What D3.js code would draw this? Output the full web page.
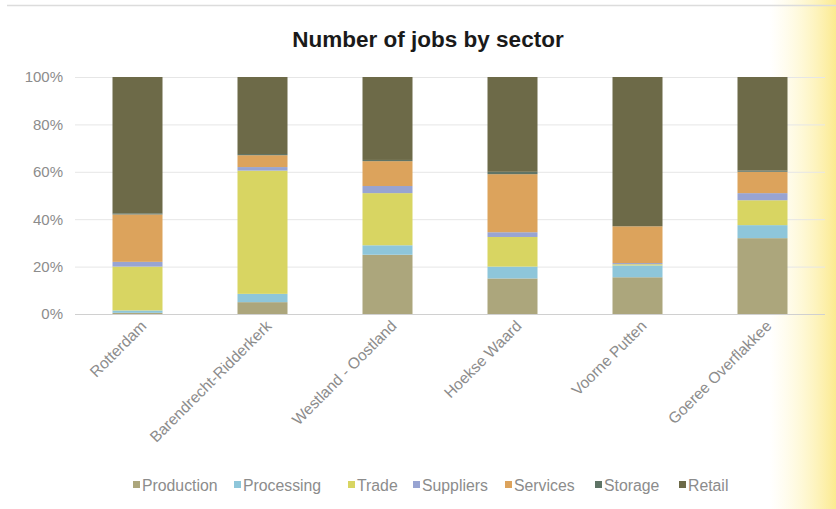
<!DOCTYPE html>
<html>
<head>
<meta charset="utf-8">
<script src="https://cdn.jsdelivr.net/npm/d3@7"></script>
<style>
  html, body { margin: 0; padding: 0; background: #ffffff; }
  svg { display: block; font-family: "Liberation Sans", Arial, sans-serif; }
</style>
</head>
<body>
<svg id="chart" width="836" height="509"></svg>
<script>
// Share of jobs (%) per sector in each region
const regions = ["Rotterdam", "Barendrecht-Ridderkerk", "Westland - Oostland", "Hoekse Waard", "Voorne Putten", "Goeree Overflakkee"];
const sectors = ["Production", "Processing", "Trade", "Suppliers", "Services", "Storage", "Retail"];

const production = [0.5, 5, 25, 15, 15.5, 32];
const processing = [1, 3.5, 4, 5, 5, 5.5];
const trade      = [18.5, 52, 22, 12.5, 0.5, 10.5];
const suppliers  = [2, 1.5, 3, 2, 0.5, 3];
const services   = [20, 5, 10.5, 24.5, 15.5, 9];
const storage    = [0.5, 0.5, 0.5, 1, 0, 0.5];
const retail     = [57.5, 32.5, 35, 40, 63, 39.5];

const yTicks = [0, 20, 40, 60, 80, 100];

const sectorColors = ["#aca67c", "#8ec6da", "#d8d562", "#98a4d2", "#dca35c", "#5f7466", "#6d6a48"];

const seriesValues = [production, processing, trade, suppliers, services, storage, retail];
const rows = regions.map((r, i) => {
  const row = { region: r };
  sectors.forEach((s, k) => { row[s] = seriesValues[k][i]; });
  return row;
});

const svg = d3.select("#chart");
const W = 836, H = 509;
const plot = { left: 75, right: 825, top: 77, bottom: 314 };

// soft warm glow along the right edge
const defs = svg.append("defs");
const glow = defs.append("linearGradient").attr("id", "glow").attr("x1", 0).attr("x2", 1).attr("y1", 0).attr("y2", 0);
glow.append("stop").attr("offset", "0%").attr("stop-color", "#fff6c4").attr("stop-opacity", 0);
glow.append("stop").attr("offset", "55%").attr("stop-color", "#fdf0a8").attr("stop-opacity", 0.55);
glow.append("stop").attr("offset", "100%").attr("stop-color", "#fbe98a").attr("stop-opacity", 0.95);
svg.append("rect").attr("x", 770).attr("y", 0).attr("width", W - 770).attr("height", H).attr("fill", "url(#glow)");

// chart frame
svg.append("line").attr("x1", 7).attr("x2", W).attr("y1", 5.5).attr("y2", 5.5).attr("stroke", "#dcdcdc").attr("stroke-width", 1.5);

const x = d3.scaleBand().domain(regions).range([plot.left, plot.right]).paddingInner(0.6).paddingOuter(0.3);
const y = d3.scaleLinear().domain([0, 100]).range([plot.bottom, plot.top]);

// gridlines and percentage ticks
const yAxis = d3.axisLeft(y).tickValues(yTicks).tickFormat(d => d + "%").tickSize(-(plot.right - plot.left)).tickPadding(12);
const gy = svg.append("g").attr("transform", `translate(${plot.left},0)`).call(yAxis);
gy.select(".domain").remove();
gy.selectAll(".tick line").attr("stroke", d => d === 0 ? "#d0d0d0" : "#e6e6e6").attr("stroke-width", 1);
gy.selectAll(".tick text").attr("fill", "#8c8c8c").style("font-size", "15px");

// stacked bars
const stack = d3.stack().keys(sectors);
const layers = stack(rows);
svg.append("g").selectAll("g").data(layers).join("g")
  .attr("fill", (d, i) => sectorColors[i])
  .selectAll("rect").data(d => d).join("rect")
  .attr("x", d => x(d.data.region))
  .attr("width", x.bandwidth())
  .attr("y", d => y(d[1]))
  .attr("height", d => Math.max(0, y(d[0]) - y(d[1])));

// category labels, rotated
const xAxis = d3.axisBottom(x).tickSize(0).tickPadding(0);
const gx = svg.append("g").attr("transform", `translate(0,${plot.bottom})`).call(xAxis);
gx.select(".domain").remove();
gx.selectAll(".tick text")
  .attr("fill", "#8c8c8c")
  .style("font-size", "15.5px")
  .attr("text-anchor", "end")
  .attr("dy", 0)
  .attr("transform", "translate(10,13) rotate(-45)");

// title
svg.append("text").attr("x", 428).attr("y", 47).attr("text-anchor", "middle")
  .attr("fill", "#1a1a1a").style("font-size", "22.5px").style("font-weight", "bold")
  .text("Number of jobs by sector");

// legend
const legendX = [133, 234, 348, 413, 505, 595, 679];
const lg = svg.append("g").selectAll("g").data(sectors).join("g")
  .attr("transform", (d, i) => `translate(${legendX[i]},485)`);
lg.append("rect").attr("x", 0).attr("y", -4).attr("width", 7).attr("height", 7)
  .attr("fill", (d, i) => sectorColors[i]);
lg.append("text").attr("x", 9).attr("y", 5.5).attr("fill", "#8c8c8c").style("font-size", "15.8px").text(d => d);
</script>
</body>
</html>
